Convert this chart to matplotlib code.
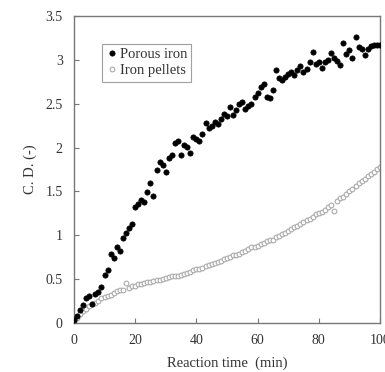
import matplotlib
matplotlib.use("Agg")
import matplotlib.pyplot as plt
import numpy as np

plt.rcParams['font.family'] = ['Liberation Serif', 'DejaVu Serif']

time_min = list(range(0, 101))

porous_iron = [
    0.03, 0.08, 0.15, 0.20, 0.28, 0.31, 0.21, 0.33, 0.35, 0.41,
    0.55, 0.60, 0.79, 0.74, 0.86, 0.82, 0.97, 1.02, 1.08, 1.13,
    1.32, 1.36, 1.40, 1.38, 1.49, 1.59, 1.45, 1.74, 1.83, 1.80,
    1.72, 1.88, 1.91, 2.05, 2.08, 1.91, 2.03, 2.01, 1.94, 2.12,
    2.10, 2.08, 2.15, 2.28, 2.22, 2.25, 2.29, 2.27, 2.33, 2.38,
    2.36, 2.46, 2.37, 2.43, 2.50, 2.52, 2.44, 2.47, 2.50, 2.58,
    2.62, 2.69, 2.73, 2.58, 2.56, 2.66, 2.88, 2.79, 2.77, 2.80,
    2.84, 2.86, 2.83, 2.88, 2.93, 2.86, 2.90, 2.97, 3.09, 2.95,
    2.97, 2.91, 2.97, 3.00, 3.08, 3.02, 2.99, 2.94, 3.19, 3.07,
    3.11, 3.02, 3.26, 3.15, 3.12, 3.05, 3.12, 3.16, 3.17, 3.17,
    3.17,
]

iron_pellets = [
    0.02, 0.06, 0.10, 0.13, 0.16, 0.19, 0.22, 0.23, 0.25, 0.28,
    0.29, 0.31, 0.32, 0.34, 0.36, 0.37, 0.38, 0.46, 0.40, 0.42,
    0.42, 0.44, 0.44, 0.45, 0.47, 0.47, 0.48, 0.49, 0.49, 0.50,
    0.51, 0.52, 0.53, 0.53, 0.54, 0.55, 0.56, 0.57, 0.58, 0.60,
    0.61, 0.62, 0.63, 0.65, 0.66, 0.67, 0.68, 0.70, 0.71, 0.73,
    0.74, 0.75, 0.77, 0.78, 0.79, 0.81, 0.82, 0.84, 0.86, 0.87,
    0.88, 0.90, 0.91, 0.93, 0.94, 0.95, 0.98, 0.99, 1.01, 1.03,
    1.05, 1.07, 1.09, 1.11, 1.13, 1.15, 1.17, 1.19, 1.21, 1.24,
    1.25, 1.27, 1.29, 1.32, 1.34, 1.28, 1.39, 1.42, 1.44, 1.47,
    1.50, 1.53, 1.56, 1.59, 1.62, 1.64, 1.67, 1.70, 1.72, 1.75,
    1.78,
]

x_ticks = [0, 20, 40, 60, 80, 100]
y_ticks = [0, 0.5, 1, 1.5, 2, 2.5, 3, 3.5]
y_tick_labels = ["0", "0.5", "1", "1.5", "2", "2.5", "3", "3.5"]

fig = plt.figure(figsize=(3.85, 3.72), dpi=100)
ax = fig.add_axes([0.192, 0.132, 0.795, 0.825])

text_col = '#333333'
spine_col = '#777777'

ax.plot(time_min, iron_pellets, linestyle='none', marker='o', markersize=3.4,
        markerfacecolor='white', markeredgecolor='#aaaaaa', markeredgewidth=0.8,
        label='Iron pellets', zorder=2)
ax.plot(time_min, porous_iron, linestyle='none', marker='o', markersize=3.8,
        markerfacecolor='black', markeredgecolor='black', markeredgewidth=0.5,
        label='Porous iron', zorder=3)

ax.set_xlim(0, 100)
ax.set_ylim(0, 3.5)
ax.set_xticks(x_ticks)
ax.set_yticks(y_ticks)
ax.set_yticklabels(y_tick_labels)
ax.tick_params(direction='in', length=3.5, width=0.8, color=spine_col,
               labelsize=10, labelcolor=text_col)
ax.tick_params(axis='x', pad=8)
ax.tick_params(axis='y', pad=8)
for s in ax.spines.values():
    s.set_color(spine_col)
    s.set_linewidth(1.0)

ax.set_xlabel('Reaction time  (min)', fontsize=10.5, color=text_col, labelpad=7)
ax.set_ylabel('C. D. (-)', fontsize=10.5, color=text_col, labelpad=6)

handles, labels = ax.get_legend_handles_labels()
leg = ax.legend(handles[::-1], labels[::-1], loc='upper left',
                bbox_to_anchor=(0.092, 0.91), fontsize=10.5, frameon=True,
                fancybox=False, edgecolor='#888888', handletextpad=0.1,
                handlelength=0.8, borderpad=0.3, labelspacing=0.2,
                borderaxespad=0)
leg.get_frame().set_linewidth(0.8)
for t in leg.get_texts():
    t.set_color(text_col)

fig.savefig('out.png', dpi=100)
